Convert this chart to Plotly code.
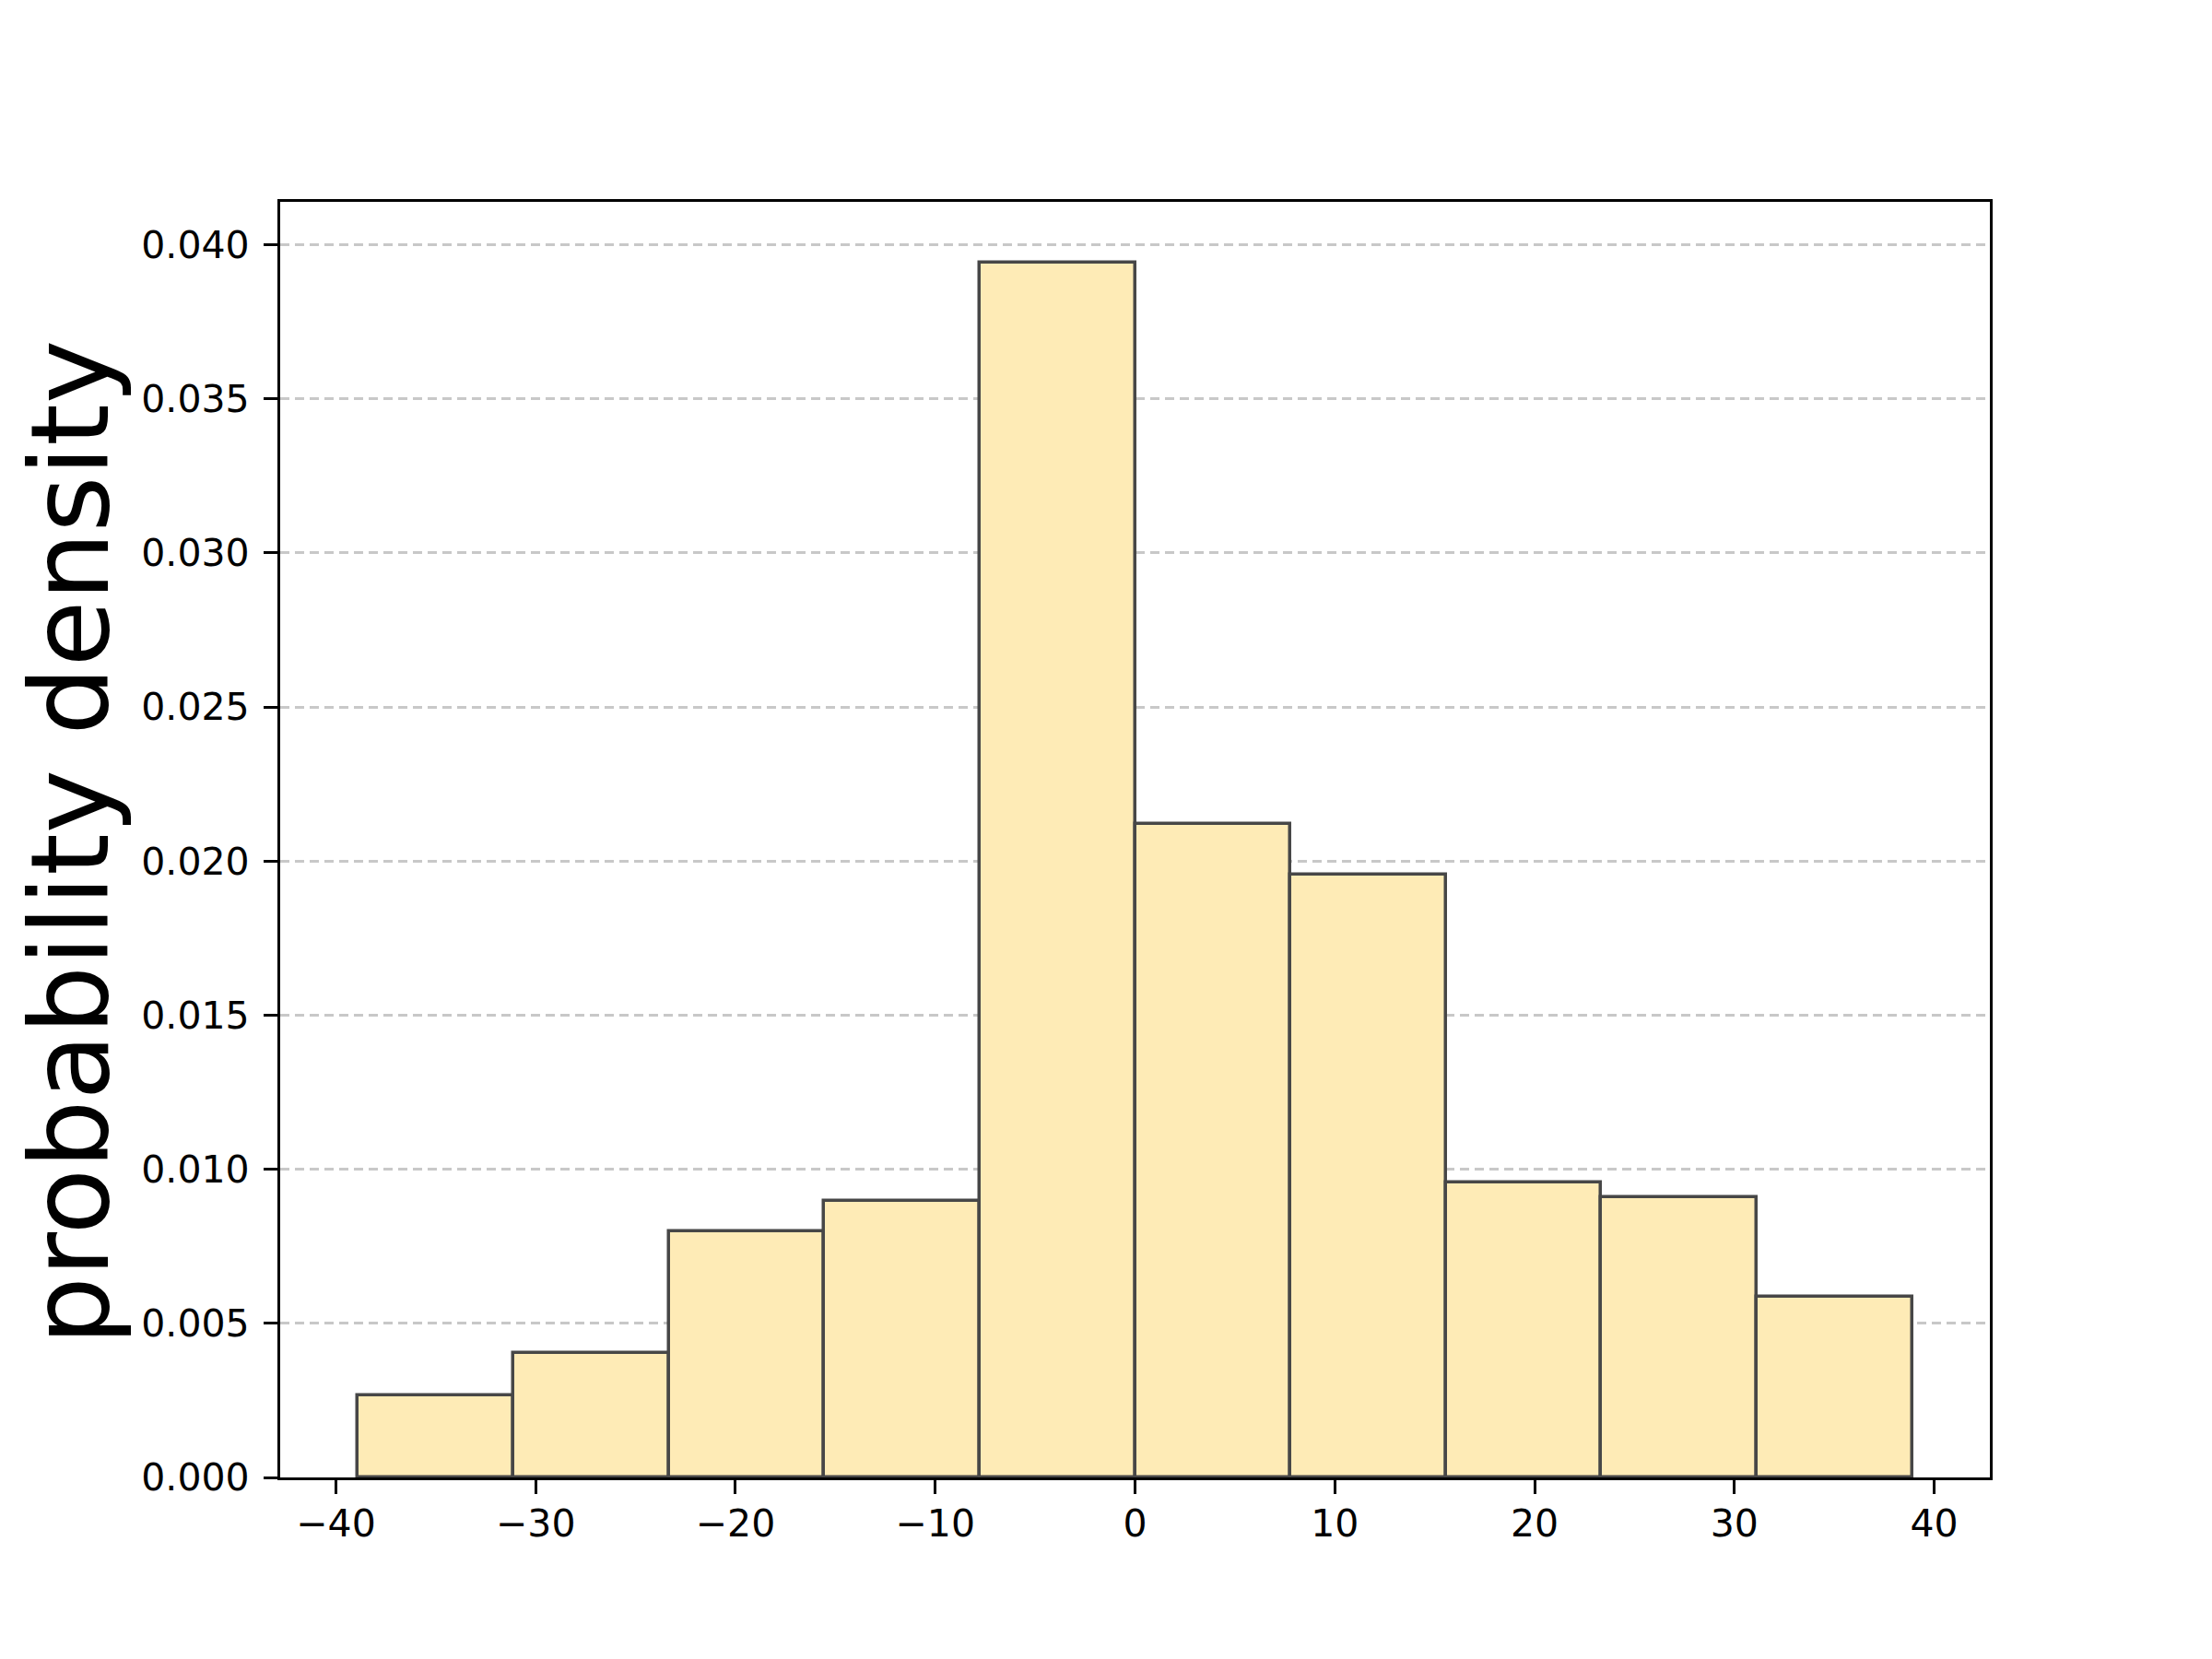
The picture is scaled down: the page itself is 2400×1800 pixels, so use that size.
import plotly.graph_objects as go

# histogram data
bin_edges = [-38.9, -31.12, -23.34, -15.56, -7.78, 0.0, 7.78, 15.56, 23.34, 31.12, 38.9]
densities = [0.00267, 0.00404, 0.00798, 0.00898, 0.03942, 0.02120, 0.01957, 0.00956, 0.00908, 0.00586]
x_ticks = [-40, -30, -20, -10, 0, 10, 20, 30, 40]
x_tick_text = ["\u221240", "\u221230", "\u221220", "\u221210", "0", "10", "20", "30", "40"]
y_ticks = [0.0, 0.005, 0.010, 0.015, 0.020, 0.025, 0.030, 0.035, 0.040]
y_label = "probability density"

centers = [(bin_edges[i] + bin_edges[i + 1]) / 2 for i in range(len(densities))]
widths = [bin_edges[i + 1] - bin_edges[i] for i in range(len(densities))]

fig = go.Figure()
fig.add_trace(go.Bar(
    x=centers, y=densities, width=widths,
    marker=dict(color="#FEEBB6", line=dict(color="#474747", width=3.5)),
    showlegend=False,
))

span = bin_edges[-1] - bin_edges[0]
xr = [bin_edges[0] - 0.05 * span, bin_edges[-1] + 0.05 * span]
yr = [0, max(densities) * 1.05]

font_family = "DejaVu Sans"
fig.update_layout(
    width=2400, height=1800,
    margin=dict(l=296, r=249, t=211, b=205, pad=0),
    paper_bgcolor="white", plot_bgcolor="white",
    bargap=0,
    font=dict(family=font_family, color="black"),
    xaxis=dict(
        range=xr, tickvals=x_ticks, ticktext=x_tick_text,
        showgrid=False, zeroline=False,
        showline=True, linecolor="black", linewidth=3.3, mirror=True,
        ticks="outside", ticklen=15, tickwidth=3.3, tickcolor="black",
        tickfont=dict(size=41, family=font_family, color="black"),
        ticklabelstandoff=-3,
    ),
    yaxis=dict(
        range=yr, tickvals=y_ticks, tickformat=".3f",
        showgrid=True, gridcolor="rgba(170,170,170,0.65)", gridwidth=2.5, griddash="10px,6px",
        zeroline=False,
        showline=True, linecolor="black", linewidth=3.3, mirror=True,
        ticks="outside", ticklen=15, tickwidth=3.3, tickcolor="black",
        tickfont=dict(size=41, family=font_family, color="black"),
        ticklabelstandoff=7,
    ),
    annotations=[dict(
        text=y_label, textangle=-90, showarrow=False,
        xref="paper", yref="paper", x=-0.1228, y=0.4978,
        xanchor="center", yanchor="middle",
        font=dict(size=117, family=font_family, color="black"),
    )],
)

fig.write_html("out.html")
